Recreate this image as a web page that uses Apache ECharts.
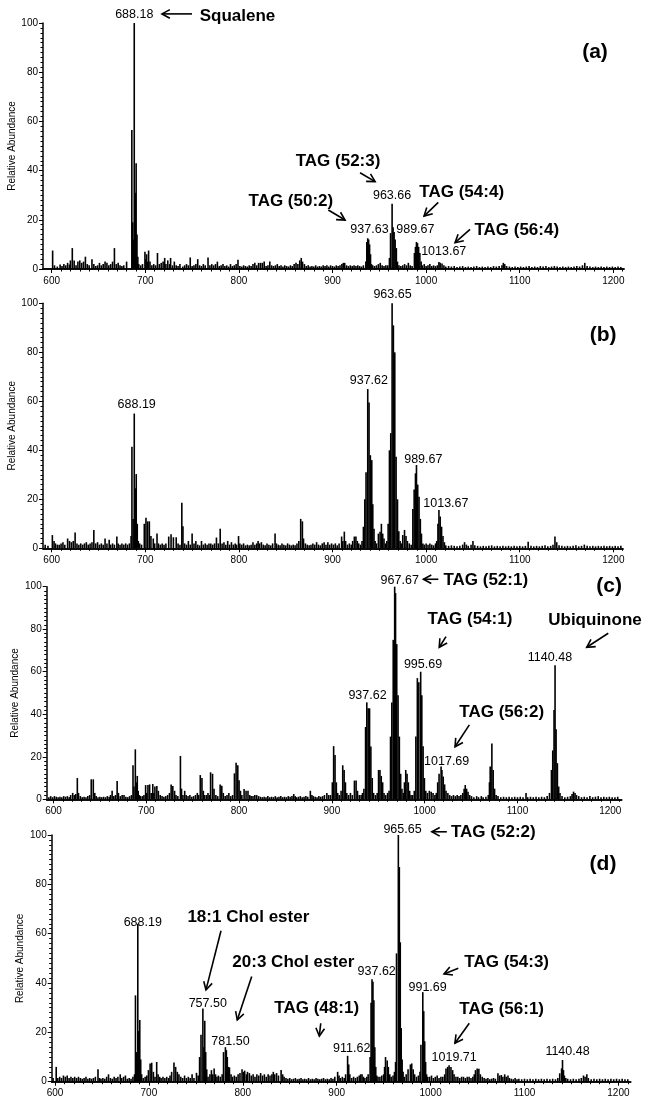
<!DOCTYPE html>
<html><head><meta charset="utf-8">
<script src="https://cdn.jsdelivr.net/npm/echarts@6/dist/echarts.min.js"></script>
<style>html,body{margin:0;padding:0;background:#fff}#c{width:650px;height:1103px}</style>
</head><body><div id="c"></div>
<script>
// ---------- DATA ----------
const xTickLabels = [600, 700, 800, 900, 1000, 1100, 1200];
const yTickLabels = [0, 20, 40, 60, 80, 100];
const yName = 'Relative Abundance';

// panel (a): [m/z, relative abundance]
const specA = [[601,7.5],[603,1.5],[606,1],[609,1.8],[611,1.2],[613,2],[615,1.5],[617,2.5],[619,1.8],[620,3.5],[622,8.5],[624,3.5],[626,1.5],[628,3],[630,3.5],[632,2.5],[634,3],[636,5],[638,2],[640,1.5],[643,4],[645,2],[647,1.2],[649,1.5],[651,2.5],[653,1.5],[655,2],[657,3],[659,2.5],[661,1.5],[663,2],[665,3],[667,8.5],[669,2],[671,2.5],[673,1.5],[675,1.2],[677,1.5],[680,3],
[685.6,56.5],[686.6,19],[687.3,12],[688.18,100],[689.2,31],[690.2,43],[691.1,14],[692,5],[693,2],
[695,1.5],[697,2],[699.6,7],[700.5,4],[701.4,6],[702.5,3],[703.5,7.5],[705,3],[707,1.5],[709,2],[711,1.5],[713,6.5],[715,2],[717,2.5],[719,3],[720.7,4.5],[722,2],[724,3.5],[726,2],[727,4.5],[729,1.5],[731,3],[733,1.5],[735,1.2],[737,2],[740,1],[742,1.5],[744,2],[746,1.5],[748,4.7],[750,1.2],[752,1.5],[754,2],[756,4],[758,1.5],[760,1.2],[762,2],[764,1.5],[767,4.7],[769,1.5],[771,2],[773,1.5],[775,2],[777,3],[779,1.2],[781,1.5],[783,2],[785,1.2],[787,1.5],[789,1],[791,2],[793,1.2],[795,1.5],[797,2],[799,3.8],[801,1.2],[803,1],[805,1.5],[807,1.2],[809,1],[811,1.5],[813,1.2],[815,2],[817,2.5],[819,1.5],[821,2.5],[823,2.5],[825,2.5],[827,3],[829,1.2],[831,1.5],[833,3],[835,1.5],[837,1.2],[839,1.5],[841,2],[843,1.2],[845,1.5],[847,1],[849,1.5],[851,1.2],[853,1],[855,1.5],[857,1.2],[859,2],[861,2.5],[863,2],[865,3.5],[866.6,4.5],[868,3],[870,2],[872,1.2],[874,1.5],[876,1],[878,1.2],[880,1],[882,1.5],[884,1],[886,1.2],[888,1],[890,1.5],[892,1.2],[894,1.5],[896,1],[898,1.5],[900,1.2],[902,1],[904,1.5],[906,1.2],[908,1.5],[910,2],[911.5,2.5],[913,2.5],[915,1.5],[917,1.2],[919,1.5],[921,1.2],[923,1.5],[925,1.2],[927,1.5],[929,1.2],[931,1],[933,1.5],
[935.6,3],[936.6,11],[937.63,12.5],[938.6,12],[939.6,10],[940.6,6],[941.6,2],[943,1.5],[945,1.2],[947,1.5],[949,2],[951,2.5],[953,1.5],[955,1.2],[957,1.5],[959,1.5],
[960.8,4.5],[962,14.6],[963.66,26.5],[964.7,17],[965.8,15],[966.9,12],[968.2,8.5],[969.4,3],[971,1.5],[973,1.2],[975,1.5],[977,2],[979,1.5],[981,2.5],[983,1.5],[985,1.2],
[987.5,6.5],[988.6,9],[989.67,11],[990.8,10.5],[992,9],[993.3,6.5],[994.7,3],[996,1.5],[998,2],[1000,1.2],[1002,1.5],[1004,2],[1006,1.2],[1008,1.5],[1010,1.2],
[1012,1.5],[1013.67,2.8],[1015,2.5],[1017,2.2],[1019,1.5],[1021,1],[1024,1.2],[1027,1],[1030,1.2],[1033,0.8],[1036,1],[1039,1.2],[1042,0.8],[1045,1],[1048,0.8],[1051,1],[1054,1.2],[1057,0.8],[1060,1],[1063,0.8],[1066,1],[1069,0.8],[1072,1.2],[1075,1],[1078,1.2],[1081,1.5],[1082.5,2.5],[1084,2],[1086,1.2],[1089,1],[1092,0.8],[1095,1],[1098,0.8],[1101,1],[1104,0.8],[1107,1],[1110,1.2],[1113,0.8],[1116,1],[1119,0.8],[1122,1.2],[1125,1],[1128,1.2],[1131,0.8],[1134,1],[1137,1.2],[1140,1],[1143,0.8],[1146,1],[1149,0.8],[1152,1],[1155,0.8],[1158,1],[1161,1.2],[1164,1],[1167,1.5],[1169.5,2.5],[1172,1.2],[1175,1],[1178,0.8],[1181,1],[1184,0.8],[1187,1],[1190,0.8],[1193,1],[1196,0.8],[1199,1],[1202,0.8],[1205,1],[1208,0.8]];

// panel (b)
const specB = [[593,1.5],[596,1],[600.7,5.4],[602.5,3],[604,2],[606,1.5],[608,1.5],[610,2],[612,2.5],[614,1.5],[617,4],[619,3],[621,2.5],[623,3],[625,6.4],[627,2],[629,1.5],[631,2],[633,1.5],[635,2],[637,2.5],[639,1.5],[641,2],[643,2.5],[645,7.5],[647,2],[649,2.5],[651,1.5],[653,2],[655,1.5],[657,4],[659,2],[661.4,3.5],[663,1.5],[665,2],[667,1.5],[669.6,4.8],[671,2],[673,1.5],[675,2],[677,1.5],[679,2],[681,1.5],[683,2],
[684.8,5],[685.7,41.5],[687,12],[688.19,55],[689.3,24.5],[690.3,30.3],[691.4,10],[692.5,3],[694,2],[696,1.5],
[698.9,10],[700.7,12.5],[702.5,11],[704.3,11],[706,5],[708.5,4],[710,2],[712.5,6],[714,2],[716,1.5],[718,2],[720,1.5],[722,2],[725,4.8],[727.5,5.7],[730,4.5],[733,4.5],[735,2],[737,1.5],[739,18.6],[740.2,9],[742,2],[744,1.5],[746,3],[748,1.5],[750,6],[752,2],[754,3],[756,1.5],[758,1.2],[760,3],[762,1.5],[764,2],[766,1.5],[768,2],[770,2],[772,1.5],[774,2],[776,4.4],[778,2],[780,8],[782,2],[784,2.5],[786,1.5],[788,3],[790,1.5],[792,2.5],[794,1.5],[796,2],[797.5,1.5],[799.6,5],[801,2],[803,1.5],[805,2],[807,1.2],[809,1.5],[811,1.2],[813,1.5],[815,2.5],[817,1.5],[819,2],[820.5,3],[822,2],[824,2.5],[826,1.5],[828,1.2],[830,2],[832,1.5],[834,1.2],[836,2],[838.6,6],[840,2],[842,1.5],[844,1.2],[846,2],[848,1.5],[850,1.2],[852,2],[854,1.5],[856,1.2],[858,1.5],[860,1.2],[862,2],[864,3],[866,12],[867.8,11],[869,4],[871,2],[873,1.5],[875,1.2],[877,1.5],[879,2],[881,1.5],[883,2.5],[885,1.5],[887,1.2],[889,2],[891,2.5],[893,1.5],[895,2.5],[897,1.5],[899,2],[901,1.5],[903,2],[905,1.2],[907,2],[909.7,4.8],[911,3],[912.6,6.8],[914,3],[916,1.5],[918,2],[920,1.5],[921.5,3],[923.3,4.8],[925,4.8],[926.5,3],[928,2],[930,1.5],[931.5,3],
[933,8.8],[934.5,20],[935.8,31],[937.62,65],[939,59.5],[940.4,38],[941.9,36],[943,18],[944.3,8],[945.5,3],[947,2],
[949,6],[950.8,6.8],[952.2,10],[953.6,6],[955,4],[956.5,2],[958,3],
[959.4,10],[960.8,40],[962.2,47],[963.65,100],[965,91],[966.5,80],[967.9,37.4],[969.4,20],[970.8,7],[972.2,3],[973.5,2],
[975,5.4],[976.9,7.5],[978.5,5],[980,3],[982,2],[984,1.5],
[985.8,16],[987.2,24],[988.6,30.6],[989.67,34],[991,26],[992.4,21],[993.8,12],[995,6],[996.5,2],[998,1.5],[1000,2],[1002,1.5],[1004,2],[1006,1.5],[1008,1.2],[1010,2],[1011.3,3],
[1012.6,10],[1013.67,15.6],[1015,13],[1016.5,8.8],[1018,5],[1019.5,2.5],[1021,1.2],[1024,1],[1027,1.2],[1030,1],[1033,0.8],[1036,1],[1039,1.5],[1041,2.5],[1043,1.5],[1045,1],[1048,1.5],[1050,3],[1052,1.2],[1055,1],[1058,0.8],[1061,1],[1064,0.8],[1067,1],[1070,1.2],[1073,0.8],[1076,1],[1079,0.8],[1082,1],[1085,0.8],[1088,1],[1091,0.8],[1094,1],[1097,0.8],[1100,1],[1103,0.8],[1106,1],[1109,2.7],[1112,1],[1115,0.8],[1118,1],[1121,0.8],[1124,1],[1127,1.2],[1130,0.8],[1133,1],[1135.5,1.5],[1137.6,4.8],[1139.5,2.5],[1142,1.2],[1145,1],[1148,0.8],[1151,1],[1154,0.8],[1157,1],[1160,1.2],[1163,0.8],[1166,1],[1169,1.5],[1172,1],[1175,0.8],[1178,1],[1181,0.8],[1184,1],[1187,0.8],[1190,1],[1193,0.8],[1196,1],[1199,0.8],[1202,1],[1205,0.8],[1208,1]];

// panel (c)
const specC = [[595,1],[597,1.5],[599,1],[601,1.5],[603,1.2],[605,1],[607,1.2],[609,1],[611,1.5],[613,1.2],[615,1.5],[617,1],[618.5,2],[620.7,3],[622.5,2],[624,2.5],[625.7,10],[627,3],[629,1.5],[631,1],[633,1.2],[635,1],[637,1.5],[639,2],[640.7,9.4],[642.9,9.4],[644.5,3],[646,1.5],[648,1],[650,1.2],[652,1],[654,1.2],[656,1],[658,1.5],[660,1.2],[661.5,2],[663.2,4],[665,1.5],[666.8,2],[668.6,8.6],[670,3],[672,1.5],[674,2],[676,2],[678,1.2],[680,1],[682,1.5],[684,2],
[685.7,16],[686.7,6],[688.2,23.5],[689.3,8],[690.3,11],[691.3,4],[692.5,2],[694,1.5],[696,1.5],[697.5,2],
[699.3,6.7],[700.5,3],[701.8,6.7],[703.6,7],[705.3,3],[707,7.2],[708.2,3],[709.3,6],[711.4,6.3],[713,4],[715,2],[717,1.5],[719,1.2],[721,1.5],[723,2],[725,3],[726.8,7],[728.6,6.3],[730.5,4],[732,2],[734,1.5],[736.8,20.4],[738,5],[739.5,2],[741.4,4],[743,2],[745,1.5],[747,2],[749,1.2],[751,1.5],[753,2],[755,3],[756.5,2],[758.2,11.4],[760,10],[761.5,4],[763,2],[765,2],[766.5,3],[768,2],[769.3,12.7],[771.4,12],[773,5],[775,2],[777,1.5],[779.6,7],[781.4,6.4],[783,3],[785,1.5],[787,2],[789,3],[791,1.5],[793,2],[795,12.2],[796.8,17.2],[798.6,16],[800,9],[801.5,4],[803,2],[805.4,4.9],[807.5,4],[809.6,4],[811.5,2],[813,1.5],[815,1.5],[817,2],[819,2],[821,1.5],[823,1.2],[825,1],[827,1.2],[829,1],[831,1.5],[833,1],[835,1.2],[837,1],[839,1.5],[841,1],[843,1.2],[845,1.5],[847,1],[849,1.2],[851,1],[853,1.5],[855,1.2],[857,1.5],[858.9,2.5],[860.5,1.5],[862,1],[864,1.2],[866,1.5],[868,1],[870,1.2],[872,1.5],[874,1.2],[876.8,4],[878.5,2],[880,1.5],[882,1.2],[884,1],[886,1.5],[888,1.2],[890,1.5],[892,2],[894.6,3],[896.5,2],[898.5,2],[900.5,8],
[901.9,25],[903.4,20.8],[904.8,8],[906.3,3],[908,2],[909.9,4],[911.7,16],[913.2,13.8],[914.6,8],[916.1,3],[918,2],[920,3],[922,2],[924.3,8.8],[926.1,8.8],[927.6,4],[929.5,2],[931.5,2],[933,3],
[934.5,5],[936.3,34],[937.62,45.6],[939.1,42.8],[940.6,42.8],[942,24.8],[943.5,10],[945,3],[947,2],[948.8,3],
[950.3,13.8],[951.8,13.8],[953.2,11],[954.7,8],[956.2,3],[958,2],[960,3],[961.6,4],
[963.2,29.5],[964.6,45.5],[966.1,75],[967.67,100],[968.6,97],[969.9,73],[971.3,49],[972.7,29.5],[974.1,12],[975.5,5],[977,3],
[978.2,8],[979.6,13.8],[981,12],[982.4,8],[983.8,4],[985.3,2],[987,2],[988.8,4],
[990.5,29.5],[992.1,57],[993.7,55],[995.69,60],[996.9,49],[998.3,25],[999.7,10],[1001.2,4],[1003,3],[1005,4],[1007,3.5],[1009,3],[1011,2],[1012.5,3],
[1014,8],[1015.5,12],[1017.69,15.4],[1018.6,13.8],[1020,10.7],[1021.5,7],[1023,4],[1025,3],[1027,2],[1029,1.5],[1031,2],[1033,1.5],[1035,2],[1037,1.5],[1039,2],[1041,3],[1042.5,5],[1043.7,6.7],[1045.2,5],[1046.7,3.5],[1048.5,2],[1050.5,1.5],[1053,1],[1056,1.5],[1058,1],[1061,1.5],[1063,1],[1066,1.2],[1068.5,2],
[1069.8,8],[1070.6,15.4],[1072.4,26.3],[1073.8,13.8],[1075.3,5],[1077,2],[1079,1.5],[1082,1],[1085,1.2],[1088,1],[1091,1.2],[1094,1],[1097,1.2],[1100,1],[1103,1.2],[1106,1],[1109.2,3],[1111,1],[1114,1.2],[1117,1],[1120,1.2],[1123,1],[1126,1.2],[1129,1],[1132,1.5],[1134.5,3],
[1136.6,13.8],[1138,23],[1139.4,42],[1140.48,63],[1141.6,33],[1143,17],[1144.4,6],[1145.8,3],[1148,1.5],[1151,1],[1154,1.2],[1157,1.5],[1158.8,2.5],[1160.4,3.6],[1162,3],[1163.6,2],[1166,1.5],[1169,1],[1172,1.2],[1175,1],[1178,1.5],[1181,1],[1184,1.2],[1187,1.5],[1190,1],[1193,1.2],[1196,1],[1199,1.2],[1202,1],[1205,1],[1208,1.2]];

// panel (d)
const specD = [[598,1.5],[601.3,6],[603,1.5],[605,2],[607,1.5],[609,2.5],[611,2],[613,2.5],[615,1.5],[617,2],[619,1.5],[621,2],[623,1.5],[625,2],[627,1.5],[629,1.2],[631,1.5],[633,2],[635,1.2],[637,1.5],[639,1.2],[641,1.5],[643,2],[645.8,5],[647.5,1.5],[649,1.2],[651,1.5],[653,1.2],[655,2],[657,3],[659,1.5],[661,1.2],[663,2],[665,1.5],[667,2],[669.5,3],[671,1.5],[673,2],[675,2.5],[677,1.2],[679,1.5],[681,1.2],[683,2],
[684.7,3],[685.7,35],[686.8,12],[688.19,64],[689.2,20.5],[690.3,25],[691.3,9],[692.3,3],[694,1.5],[696,2],[697.8,2.5],
[699.5,4.7],[701.3,7.4],[703,7.7],[704.8,4],[706.5,2],[708.3,8],[709.8,3],[711.5,2],[713,1.5],[715,2],[717,1.5],[719,2],[721,1.5],[722.5,2.5],[724.2,4],[726.7,7.8],[728.5,6],[730.3,4],[732,3],[734,2],[736,1.5],[738,2.5],[740,1.5],[742,2],[744,1.5],[746,3],[748,1.5],[750.7,3.6],[752.5,2.5],
[754,10],[755.5,19],[757.5,29.7],[758.6,14],[759.5,24.7],[760.5,12],[761.6,5],[763,2],[765,3],[766.6,4.7],[768,3],[769.5,5.4],[771,3],[772.5,2],[774,2.5],[776,2],[778,3],
[779.5,12],[781.5,14],[782.5,12.8],[783.5,10],[784.6,6],[785.8,5.8],[787.5,3],[789,2],[791,2.5],[793,2],[795,3],[797,3.5],[799.2,5],[800.5,4],[802,4.5],[803.8,3],[805,4],[807,3.5],[809,2.5],[811,3],[813,2],[815,3],[817,2.5],[819,3.5],[821,2.5],[823,3],[825,2],[827,3],[829,2.5],[831,3],[832.5,4],[834,3],[836,3.5],[838,2.5],[840.8,4.7],[842.5,3],[844,2],[846,1.5],[848,1.2],[850,1.5],[852,1],[854,1.2],[856,1.5],[858,1],[860,1.2],[862,1.5],[864,1],[866,1.2],[868,1],[870,1.5],[872,1],[874,1.2],[876,1],[878,1.5],[880,1.2],[882,1],[884,1.2],[886,1.5],[888,1],[890,1.2],[892,1],[894,1.5],[896,1.2],[898,2],
[901,4],[902.5,2.5],[904,1.5],[906,2],[908,1.5],[909.5,3],[911.62,10.5],[912.8,7],[914,3],[916,1.5],[918,2],[920,1.5],[922,2],[924,2.5],[925.5,3],[927,3],[928.5,2],[930,1.5],[932,2],[933.5,3],
[935.6,10],[936.6,32],[937.62,41.5],[938.6,40.5],[939.6,33],[940.6,14],[941.6,6],[942.6,2.5],[944,2],[946,2],[948,2.5],[950,3],
[951,6],[952,10],[953.8,8.6],[955,6],[956.5,3],[958,2],[960,2.5],[961.5,4],
[962.7,8],[963.7,52],[965.65,100],[966.7,87],[967.7,56.5],[968.7,21.7],[969.7,9],[970.7,4],[972,2],[974,3],[976,5],[978.5,7],[979.9,7.4],[981.5,5],[983,3],[985,2],[987,2.5],[988.7,4],
[989.7,15],[991.69,36.3],[992.7,28.6],[993.7,16.4],[994.7,8],[995.7,3],[997,2],[999,2],[1001,2.5],[1003,1.5],[1005,2],[1007,2.5],[1009,1.5],[1011,2],[1013,2],[1015,3],
[1016.4,5.4],[1018.2,6],[1019.71,6.7],[1021.7,6],[1023.5,4.7],[1025,3],[1027,2],[1029,2],[1031,1.5],[1033,2],[1035,2],[1037,1.5],[1039,2],[1041,2],[1043,1.5],[1045,2],[1046.5,3],[1047.8,4.7],[1049.6,5.4],[1051.4,5.2],[1053,3],[1055,2],[1057,1.5],[1059,1.2],[1061,1.5],[1063,1],[1065,1.2],[1067,1.5],[1069,1.2],[1071.7,3.4],[1073.5,2.5],[1075.3,2.7],[1077,2],[1078.9,3],[1080.5,2],[1082.4,2.5],[1084,1.5],[1086,1.2],[1088,1],[1090,1.5],[1092,1],[1094,1.2],[1097,1],[1100,1.2],[1103,1],[1106,1.2],[1109,1],[1112,1.2],[1115,1],[1118,1.2],[1121,1],[1124,1.2],[1127,1],[1130,1.2],[1133,1],[1135.5,1.5],
[1137.5,3.4],[1139.5,5.4],[1140.48,8.8],[1141.5,4.7],[1142.5,2.5],[1144,1.5],[1146,1.2],[1149,1],[1152,1.2],[1155,1],[1158,1.2],[1160.5,1.5],[1162.8,2.5],[1164.5,2],[1166.4,3],[1168,1.5],[1171,1],[1174,1.2],[1177,1],[1180,1.2],[1183,1],[1186,1.2],[1189,1],[1192,1.2],[1195,1],[1198,1.2],[1201,1],[1204,1.2],[1207,1],[1210,1]];

// labelled peak m/z values
const peakLabelsA = [688.18, 963.66, 937.63, 989.67, 1013.67];
const peakLabelsB = [688.19, 963.65, 937.62, 989.67, 1013.67];
const peakLabelsC = [967.67, 995.69, 937.62, 1017.69, 1140.48];
const peakLabelsD = [688.19, 757.50, 781.50, 911.62, 937.62, 965.65, 991.69, 1019.71, 1140.48];

// compound annotations
const compoundsA = ['Squalene', 'TAG (52:3)', 'TAG (50:2)', 'TAG (54:4)', 'TAG (56:4)'];
const compoundsB = [];
const compoundsC = ['TAG (52:1)', 'TAG (54:1)', 'Ubiquinone', 'TAG (56:2)'];
const compoundsD = ['18:1 Chol ester', '20:3 Chol ester', 'TAG (48:1)', 'TAG (52:2)', 'TAG (54:3)', 'TAG (56:1)'];
const panelLetters = ['(a)', '(b)', '(c)', '(d)'];

// ---------- LAYOUT (positions in data coordinates) ----------
const layout = [
  { grid: {left: 43, top: 23, width: 581, height: 246}, x: [590.7, 1211.4],
    peakAt: [[688.2,103.3],[963.6,30],[939.5,15.9],[988.5,15.9],[1018.8,7]],
    compAt: [[798.5,102.8],[905.9,43.9],[855.5,27.4],[1038,31.1],[1096.8,15.9]],
    arrows: [[749.9,103.7,717.8,103.7],[929.4,39.1,945.5,35.5],[895.5,24,913.4,19.9],[1013,27.1,997.8,21.5],[1046.9,16.1,1030.9,10.7]],
    letterAt: [1180.4, 88] },
  { grid: {left: 43, top: 303.3, width: 580, height: 245}, x: [590.7, 1210.3],
    peakAt: [[690.8,58.8],[964.1,103.5],[938.8,68.4],[997,36.3],[1021.1,18.4]],
    compAt: [], arrows: [], letterAt: [1189, 87] },
  { grid: {left: 46.7, top: 586.7, width: 575, height: 212.6}, x: [592.7, 1212.3],
    peakAt: [[973.1,103.1],[998.2,63.2],[938.4,48.7],[1023.7,17.7],[1135,66.5]],
    compAt: [[1065.8,103.1],[1048.8,84.7],[1183.5,84.3],[1083,40.8]],
    arrows: [[1014.7,103.5,998.6,103.5],[1023,76.5,1015.7,71.5],[1197.8,78.1,1174.6,71.5],[1048.1,35,1032.7,24.7]],
    letterAt: [1198.8, 100.4] },
  { grid: {left: 51.7, top: 835, width: 579, height: 246.7}, x: [596.5, 1213.1],
    peakAt: [[693.5,64.7],[762.7,31.8],[786.9,16.2],[916,13.5],[942.6,44.6],[970.1,102.2],[996.8,38.1],[1025.1,9.7],[1145.8,12.2]],
    compAt: [[805.9,66.6],[853.8,48.3],[878.7,29.8],[1066.8,101],[1081,48.3],[1075.7,29.4]],
    arrows: [[776.8,61.2,760.8,37.2],[809.5,42.6,794.1,25],[883,23.7,881.5,18.5],[1017.3,101.3,1001.3,101.3],[1029.5,46,1014.3,43.7],[1041.2,23.7,1025.9,15.6]],
    letterAt: [1183.6, 88.2] }
];

const specs = [specA, specB, specC, specD];
const peakLabels = [peakLabelsA, peakLabelsB, peakLabelsC, peakLabelsD];
const compounds = [compoundsA, compoundsB, compoundsC, compoundsD];

const FONT = '"Liberation Sans", Arial, sans-serif';
const grids = [], xAxes = [], yAxes = [], series = [];

function textSeries(gi, items, font) {
  return {
    type: 'custom', xAxisIndex: gi * 2, yAxisIndex: gi, silent: true, clip: false, z: 10,
    data: items.map(it => [it[0], it[1]]),
    renderItem: (params, api) => {
      const it = items[params.dataIndex];
      const p = api.coord([api.value(0), api.value(1)]);
      return { type: 'text', x: p[0], y: p[1],
        style: { text: it[2], font: font, fill: '#000', align: 'center', verticalAlign: 'middle' } };
    }
  };
}

function arrowSeries(gi, arr) {
  return {
    type: 'custom', xAxisIndex: gi * 2, yAxisIndex: gi, silent: true, clip: false, z: 10,
    data: arr,
    renderItem: (params, api) => {
      const a = api.coord([api.value(0), api.value(1)]);
      const b = api.coord([api.value(2), api.value(3)]);
      const ang = Math.atan2(b[1] - a[1], b[0] - a[0]);
      const L = 9, w = 0.5;
      const h1 = [b[0] - L * Math.cos(ang - w), b[1] - L * Math.sin(ang - w)];
      const h2 = [b[0] - L * Math.cos(ang + w), b[1] - L * Math.sin(ang + w)];
      return { type: 'group', children: [
        { type: 'line', shape: { x1: a[0], y1: a[1], x2: b[0], y2: b[1] }, style: { stroke: '#000', lineWidth: 1.6 } },
        { type: 'polyline', shape: { points: [h1, b, h2] }, style: { stroke: '#000', lineWidth: 1.6, fill: null } }
      ] };
    }
  };
}

layout.forEach((L, gi) => {
  grids.push(Object.assign({ containLabel: false, outerBoundsMode: 'none' }, L.grid));
  const minors = [];
  for (let v = 600; v <= 1210; v += 10) if (v % 100 !== 0 && v >= L.x[0] && v <= L.x[1]) minors.push(v);
  xAxes.push({
    type: 'value', gridIndex: gi, min: L.x[0], max: L.x[1], position: 'bottom',
    axisLine: { show: true, onZero: false, lineStyle: { color: '#000', width: 1.5 } },
    axisTick: { show: true, customValues: xTickLabels, length: 4, lineStyle: { color: '#000', width: 1 } },
    axisLabel: { show: true, customValues: xTickLabels, color: '#000', fontSize: 10, fontFamily: FONT, margin: 7,
      formatter: v => String(v) },
    splitLine: { show: false }
  });
  xAxes.push({
    type: 'value', gridIndex: gi, min: L.x[0], max: L.x[1], position: 'bottom',
    axisLine: { show: true, onZero: false, lineStyle: { color: '#000', width: 1.5 } },
    axisTick: { show: true, customValues: minors, length: 2.5, lineStyle: { color: '#000', width: 1 } },
    axisLabel: { show: false }, splitLine: { show: false }
  });
  yAxes.push({
    type: 'value', gridIndex: gi, min: 0, max: 100, interval: 20,
    name: yName, nameLocation: 'middle', nameGap: 26, nameMoveOverlap: false,
    nameTextStyle: { color: '#000', fontSize: 10, fontFamily: FONT },
    axisLine: { show: true, lineStyle: { color: '#000', width: 1.5 } },
    axisTick: { show: true, length: 4, lineStyle: { color: '#000', width: 1 } },
    minorTick: { show: true, splitNumber: 10, length: 2.5, lineStyle: { color: '#000', width: 1 } },
    axisLabel: { color: '#000', fontSize: 10, fontFamily: FONT, margin: 5 },
    splitLine: { show: false }, minorSplitLine: { show: false }
  });
  series.push({
    type: 'bar', xAxisIndex: gi * 2, yAxisIndex: gi, data: specs[gi], barWidth: 1.6,
    itemStyle: { color: '#000' }, silent: true
  });
  series.push(textSeries(gi, peakLabels[gi].map((v, i) => [L.peakAt[i][0], L.peakAt[i][1], v.toFixed(2)]),
    '12.5px ' + FONT));
  if (compounds[gi].length) {
    series.push(textSeries(gi, compounds[gi].map((t, i) => [L.compAt[i][0], L.compAt[i][1], t]),
      'bold 17px ' + FONT));
  }
  series.push(textSeries(gi, [[L.letterAt[0], L.letterAt[1], panelLetters[gi]]], 'bold 21px ' + FONT));
  if (L.arrows.length) series.push(arrowSeries(gi, L.arrows));
});

const chart = echarts.init(document.getElementById('c'), null, { renderer: 'canvas' });
chart.setOption({
  animation: false,
  backgroundColor: '#fff',
  grid: grids, xAxis: xAxes, yAxis: yAxes, series: series
});
</script>
</body></html>
